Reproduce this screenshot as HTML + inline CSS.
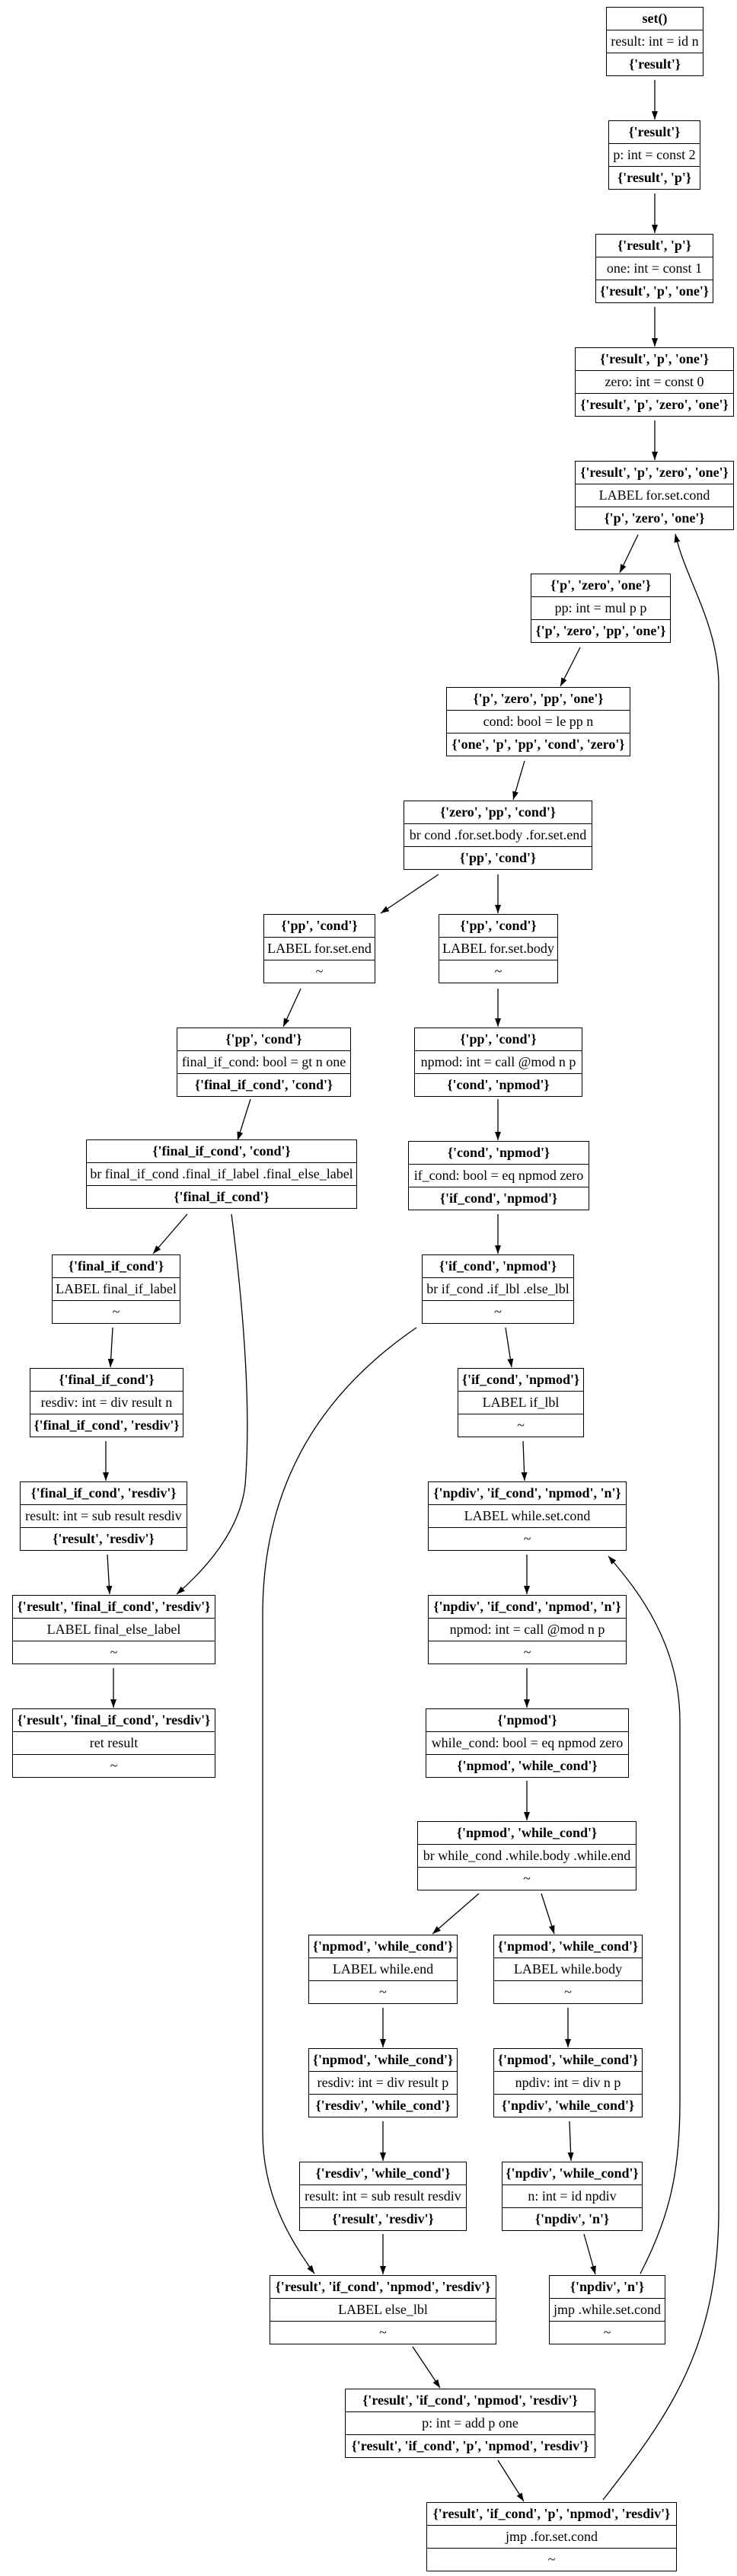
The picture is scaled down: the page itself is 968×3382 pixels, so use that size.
<!DOCTYPE html>
<html><head><meta charset="utf-8"><style>
body{margin:0;background:#fff;}
#c{position:relative;width:968px;height:3382px;overflow:hidden;font-family:"Liberation Serif",serif;font-size:18px;color:#000;}
.n{position:absolute;box-sizing:border-box;border:1.3px solid #000;height:91px;background:#fff;}
.n div{height:29px;line-height:29px;text-align:center;white-space:nowrap;overflow:visible;}
.n div+div{border-top:1.3px solid #000;}
.b{font-weight:bold;}
svg{position:absolute;left:0;top:0;}
</style></head><body><div id="c">
<svg width="968" height="3382" viewBox="0 0 968 3382">
<defs><marker id="a" markerUnits="userSpaceOnUse" markerWidth="12" markerHeight="9" refX="11" refY="4" orient="auto"><path d="M0,0 L11,4 L0,8 z" fill="#000"/></marker></defs>
<g stroke="#000" stroke-width="1.3" fill="none" marker-end="url(#a)">
<line x1="860" y1="105" x2="860" y2="157"/>
<line x1="860" y1="254" x2="860" y2="306"/>
<line x1="860" y1="403" x2="860" y2="455"/>
<line x1="860" y1="552" x2="860" y2="604"/>
<line x1="838" y1="702" x2="814" y2="752"/>
<line x1="762" y1="850" x2="736" y2="901"/>
<line x1="689" y1="999" x2="674" y2="1050"/>
<line x1="576" y1="1148" x2="500" y2="1199"/>
<line x1="654" y1="1148" x2="654" y2="1199"/>
<line x1="395" y1="1298" x2="372" y2="1348"/>
<line x1="654" y1="1298" x2="654" y2="1348"/>
<line x1="329" y1="1443" x2="312" y2="1497"/>
<line x1="654" y1="1443" x2="654" y2="1497"/>
<line x1="246" y1="1594" x2="201" y2="1646"/>
<line x1="654" y1="1594" x2="654" y2="1646"/>
<line x1="148" y1="1743" x2="145" y2="1795"/>
<line x1="664" y1="1743" x2="672" y2="1795"/>
<line x1="139" y1="1892" x2="139" y2="1944"/>
<line x1="687" y1="1892" x2="689" y2="1944"/>
<line x1="141" y1="2041" x2="144" y2="2093"/>
<line x1="692" y1="2041" x2="692" y2="2093"/>
<line x1="149" y1="2190" x2="149" y2="2242"/>
<line x1="692" y1="2190" x2="692" y2="2242"/>
<line x1="692" y1="2338" x2="692" y2="2390"/>
<line x1="629" y1="2486" x2="568" y2="2539"/>
<line x1="711" y1="2486" x2="728" y2="2539"/>
<line x1="503" y1="2636" x2="503" y2="2688"/>
<line x1="746" y1="2636" x2="746" y2="2688"/>
<line x1="503" y1="2785" x2="503" y2="2837"/>
<line x1="748" y1="2785" x2="750" y2="2837"/>
<line x1="503" y1="2933" x2="503" y2="2986"/>
<line x1="767" y1="2933" x2="782" y2="2986"/>
<line x1="542" y1="3081" x2="578" y2="3135"/>
<line x1="654" y1="3230" x2="688" y2="3284"/>
<path d="M792,3282 C880,3170 944,3080 944,2900 L944,900 C944,820 900,760 887,701"/>
<path d="M841,2985 C880,2910 893,2850 893,2760 L893,2260 C893,2160 840,2090 799,2043"/>
<path d="M547,1743 C420,1830 345,1950 345,2120 L345,2800 C345,2880 380,2940 413,2985"/>
<path d="M304,1594 C320,1720 330,1850 322,1950 C315,2010 270,2060 232,2093"/>
</g></svg>

<div class="n" style="left:796px;top:9px;width:128px"><div class="b">set()</div><div>result: int = id n</div><div class="b">{'result'}</div></div>
<div class="n" style="left:799px;top:158px;width:121px"><div class="b">{'result'}</div><div>p: int = const 2</div><div class="b">{'result', 'p'}</div></div>
<div class="n" style="left:782px;top:307px;width:155px"><div class="b">{'result', 'p'}</div><div>one: int = const 1</div><div class="b">{'result', 'p', 'one'}</div></div>
<div class="n" style="left:755px;top:456px;width:209px"><div class="b">{'result', 'p', 'one'}</div><div>zero: int = const 0</div><div class="b">{'result', 'p', 'zero', 'one'}</div></div>
<div class="n" style="left:755px;top:605px;width:209px"><div class="b">{'result', 'p', 'zero', 'one'}</div><div>LABEL for.set.cond</div><div class="b">{'p', 'zero', 'one'}</div></div>
<div class="n" style="left:697px;top:753px;width:184px"><div class="b">{'p', 'zero', 'one'}</div><div>pp: int = mul p p</div><div class="b">{'p', 'zero', 'pp', 'one'}</div></div>
<div class="n" style="left:586px;top:902px;width:242px"><div class="b">{'p', 'zero', 'pp', 'one'}</div><div>cond: bool = le pp n</div><div class="b">{'one', 'p', 'pp', 'cond', 'zero'}</div></div>
<div class="n" style="left:530px;top:1051px;width:248px"><div class="b">{'zero', 'pp', 'cond'}</div><div>br cond .for.set.body .for.set.end</div><div class="b">{'pp', 'cond'}</div></div>
<div class="n" style="left:346px;top:1200px;width:147px"><div class="b">{'pp', 'cond'}</div><div>LABEL for.set.end</div><div>~</div></div>
<div class="n" style="left:576px;top:1200px;width:157px"><div class="b">{'pp', 'cond'}</div><div>LABEL for.set.body</div><div>~</div></div>
<div class="n" style="left:232px;top:1349px;width:229px"><div class="b">{'pp', 'cond'}</div><div>final_if_cond: bool = gt n one</div><div class="b">{'final_if_cond', 'cond'}</div></div>
<div class="n" style="left:544px;top:1349px;width:221px"><div class="b">{'pp', 'cond'}</div><div>npmod: int = call @mod n p</div><div class="b">{'cond', 'npmod'}</div></div>
<div class="n" style="left:113px;top:1496px;width:356px"><div class="b">{'final_if_cond', 'cond'}</div><div>br final_if_cond .final_if_label .final_else_label</div><div class="b">{'final_if_cond'}</div></div>
<div class="n" style="left:536px;top:1498px;width:238px"><div class="b">{'cond', 'npmod'}</div><div>if_cond: bool = eq npmod zero</div><div class="b">{'if_cond', 'npmod'}</div></div>
<div class="n" style="left:68px;top:1647px;width:169px"><div class="b">{'final_if_cond'}</div><div>LABEL final_if_label</div><div>~</div></div>
<div class="n" style="left:554px;top:1647px;width:200px"><div class="b">{'if_cond', 'npmod'}</div><div>br if_cond .if_lbl .else_lbl</div><div>~</div></div>
<div class="n" style="left:39px;top:1796px;width:202px"><div class="b">{'final_if_cond'}</div><div>resdiv: int = div result n</div><div class="b">{'final_if_cond', 'resdiv'}</div></div>
<div class="n" style="left:601px;top:1796px;width:166px"><div class="b">{'if_cond', 'npmod'}</div><div>LABEL if_lbl</div><div>~</div></div>
<div class="n" style="left:26px;top:1945px;width:220px"><div class="b">{'final_if_cond', 'resdiv'}</div><div>result: int = sub result resdiv</div><div class="b">{'result', 'resdiv'}</div></div>
<div class="n" style="left:562px;top:1945px;width:261px"><div class="b">{'npdiv', 'if_cond', 'npmod', 'n'}</div><div>LABEL while.set.cond</div><div>~</div></div>
<div class="n" style="left:16px;top:2094px;width:267px"><div class="b">{'result', 'final_if_cond', 'resdiv'}</div><div>LABEL final_else_label</div><div>~</div></div>
<div class="n" style="left:562px;top:2094px;width:261px"><div class="b">{'npdiv', 'if_cond', 'npmod', 'n'}</div><div>npmod: int = call @mod n p</div><div>~</div></div>
<div class="n" style="left:16px;top:2243px;width:267px"><div class="b">{'result', 'final_if_cond', 'resdiv'}</div><div>ret result</div><div>~</div></div>
<div class="n" style="left:559px;top:2243px;width:267px"><div class="b">{'npmod'}</div><div>while_cond: bool = eq npmod zero</div><div class="b">{'npmod', 'while_cond'}</div></div>
<div class="n" style="left:548px;top:2391px;width:288px"><div class="b">{'npmod', 'while_cond'}</div><div>br while_cond .while.body .while.end</div><div>~</div></div>
<div class="n" style="left:405px;top:2540px;width:196px"><div class="b">{'npmod', 'while_cond'}</div><div>LABEL while.end</div><div>~</div></div>
<div class="n" style="left:648px;top:2540px;width:196px"><div class="b">{'npmod', 'while_cond'}</div><div>LABEL while.body</div><div>~</div></div>
<div class="n" style="left:405px;top:2689px;width:196px"><div class="b">{'npmod', 'while_cond'}</div><div>resdiv: int = div result p</div><div class="b">{'resdiv', 'while_cond'}</div></div>
<div class="n" style="left:648px;top:2689px;width:196px"><div class="b">{'npmod', 'while_cond'}</div><div>npdiv: int = div n p</div><div class="b">{'npdiv', 'while_cond'}</div></div>
<div class="n" style="left:393px;top:2838px;width:220px"><div class="b">{'resdiv', 'while_cond'}</div><div>result: int = sub result resdiv</div><div class="b">{'result', 'resdiv'}</div></div>
<div class="n" style="left:659px;top:2838px;width:185px"><div class="b">{'npdiv', 'while_cond'}</div><div>n: int = id npdiv</div><div class="b">{'npdiv', 'n'}</div></div>
<div class="n" style="left:354px;top:2987px;width:298px"><div class="b">{'result', 'if_cond', 'npmod', 'resdiv'}</div><div>LABEL else_lbl</div><div>~</div></div>
<div class="n" style="left:721px;top:2987px;width:153px"><div class="b">{'npdiv', 'n'}</div><div>jmp .while.set.cond</div><div>~</div></div>
<div class="n" style="left:453px;top:3136px;width:329px"><div class="b">{'result', 'if_cond', 'npmod', 'resdiv'}</div><div>p: int = add p one</div><div class="b">{'result', 'if_cond', 'p', 'npmod', 'resdiv'}</div></div>
<div class="n" style="left:560px;top:3285px;width:329px"><div class="b">{'result', 'if_cond', 'p', 'npmod', 'resdiv'}</div><div>jmp .for.set.cond</div><div>~</div></div>
</div></body></html>
